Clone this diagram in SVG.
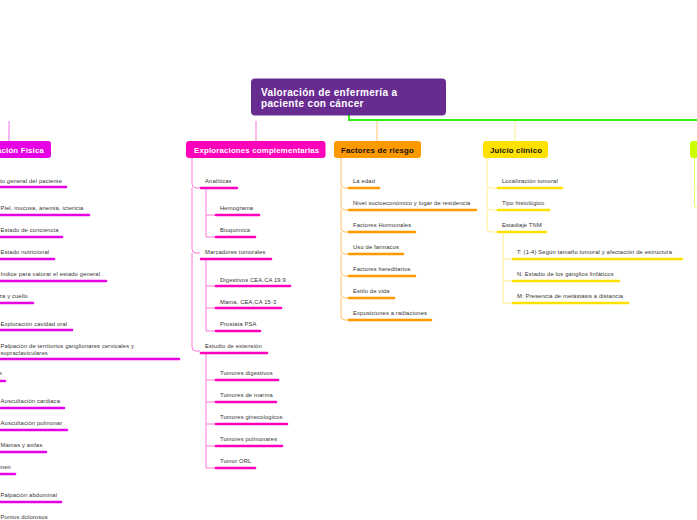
<svg xmlns="http://www.w3.org/2000/svg" width="697" height="520" viewBox="0 0 697 520">
<defs>
<linearGradient id="gl" x1="0" y1="0" x2="1" y2="0">
<stop offset="0" stop-color="#8a4cff"/><stop offset="0.05" stop-color="#c000ff"/><stop offset="1" stop-color="#cc00ee"/>
</linearGradient>
</defs>
<style>
text{font-family:"Liberation Sans",Arial,sans-serif;}
.it{font-size:5.8px;fill:#333;letter-spacing:0.15px;}
.nt{font-size:7.8px;font-weight:bold;letter-spacing:0.2px;}
.ul{fill:none;stroke-width:2.6;stroke-linecap:round;}
.br{fill:none;stroke-width:1;}
.m1{stroke:#e600e6;} .m1b{stroke:#f070f0;}
.m2{stroke:#ff00bb;} .m2b{stroke:#ff77dd;}
.o{stroke:#ff9900;} .ob{stroke:#ffc266;}
.y{stroke:#ffe100;} .yb{stroke:#ffee88;}
.g{stroke:#ddff66;}
</style>
<g id="connectors">
<path d="M-2,120 H349" stroke="url(#gl)" stroke-width="2"/>
<path d="M349,115 V120 H697" stroke="#33ee11" stroke-width="2" fill="none"/>
<path d="M9,121 V141" class="br m1b"/>
<path d="M256,121 V141" class="br m2b"/>
<path d="M377,121 V141" class="br ob"/>
<path d="M515,121 V141" class="br yb"/>
<path d="M694.5,158 V184 Q694.5,188 697,188 M694.5,188 V204 Q694.5,208 697,208" class="br g"/>
<path d="M192,158 V184 Q192,188 196,188 H200 M192,188 V249 Q192,253 196,253 H200 M192,253 V347 Q192,351 196,351 H200" class="br m2b"/>
<path d="M206,188 V215 H215 M206,215 V237 H215" class="br m2b"/>
<path d="M206,259 V286 H215 M206,286 V308 H215 M206,308 V331 H215" class="br m2b"/>
<path d="M206,353 V380 H215 M206,380 V402 H215 M206,402 V424 H215 M206,424 V446 H215 M206,446 V468 H215" class="br m2b"/>
<path d="M341,158 V184 Q341,188 345,188 H348 M341,188 V206 Q341,210 345,210 H348 M341,210 V228 Q341,232 345,232 H348 M341,232 V250 Q341,254 345,254 H348 M341,254 V272 Q341,276 345,276 H348 M341,276 V294 Q341,298 345,298 H348 M341,298 V316 Q341,320 345,320 H348" class="br ob"/>
<path d="M487,158 V184 Q487,188 491,188 H497 M487,188 V206 Q487,210 491,210 H497 M487,210 V228 Q487,232 491,232 H497" class="br yb"/>
<path d="M503,232 V259 H512 M503,259 V281 H512 M503,281 V303 H512" class="br yb"/>
</g>
<g id="root">
<rect x="251" y="78.5" width="195" height="37" rx="4" fill="#682c91"/>
<text x="261" y="96" class="nt" fill="#fff" style="font-size:10px;letter-spacing:0.35px">Valoración de enfermería a</text>
<text x="261" y="107" class="nt" fill="#fff" style="font-size:10px;letter-spacing:0.35px">paciente con cáncer</text>
</g>
<g id="n-fisica">
<rect x="-10" y="141" width="61" height="17" rx="3" fill="#e600e6"/>
<text x="44" y="153" class="nt" fill="#fff" text-anchor="end">Exploración Física</text>
</g>
<g id="fisica-items">
<text x="62" y="183" class="it" text-anchor="end">Aspecto general del paciente</text><path d="M-5,187 H66" class="ul m1"/>
<text x="0.5" y="210" class="it">Piel, mucosa, anemia, ictericia</text><path d="M-5,215 H89" class="ul m1"/>
<text x="0.5" y="232" class="it">Estado de conciencia</text><path d="M-5,237 H62" class="ul m1"/>
<text x="0.5" y="254" class="it">Estado nutricional</text><path d="M-5,259 H54" class="ul m1"/>
<text x="0.5" y="276" class="it">Indice para valorar el estado general</text><path d="M-5,281 H106" class="ul m1"/>
<text x="28" y="298" class="it" text-anchor="end">Cabeza y cuello</text><path d="M-5,303 H33" class="ul m1"/>
<text x="0.5" y="326" class="it">Exploración cavidad oral</text><path d="M-5,330 H72" class="ul m1"/>
<text x="0.5" y="348" class="it">Palpación de territorios ganglionares cervicales y</text>
<text x="0.5" y="355" class="it">supraclaviculares</text><path d="M-5,359 H179" class="ul m1"/>
<text x="2" y="375" class="it" text-anchor="end">Tórax</text><path d="M-5,381 H5" class="ul m1"/>
<text x="0.5" y="403" class="it">Auscultación cardiaca</text><path d="M-5,408 H64" class="ul m1"/>
<text x="0.5" y="425" class="it">Auscultación pulmonar</text><path d="M-5,430 H67" class="ul m1"/>
<text x="0.5" y="447" class="it">Mamas y axilas</text><path d="M-5,452 H46" class="ul m1"/>
<text x="11" y="469" class="it" text-anchor="end">Abdomen</text><path d="M-5,474 H15" class="ul m1"/>
<text x="0.5" y="497" class="it">Palpación abdominal</text><path d="M-5,502 H61" class="ul m1"/>
<text x="0.5" y="519" class="it">Puntos dolorosos</text><path d="M-5,524 H56" class="ul m1"/>
</g>
<g id="n-complementarias">
<rect x="186" y="141" width="139.5" height="17" rx="3" fill="#ff00bb"/>
<text x="194" y="153" class="nt" fill="#fff">Exploraciones complementarias</text>
</g>
<g id="complementarias-items">
<text x="205" y="183" class="it">Analíticas</text><path d="M201,188 H237" class="ul m2"/>
<text x="220" y="210" class="it">Hemograma</text><path d="M216,215 H259" class="ul m2"/>
<text x="220" y="232" class="it">Bioquímica</text><path d="M216,237 H255" class="ul m2"/>
<text x="205" y="254" class="it">Marcadores tumorales</text><path d="M201,259 H271" class="ul m2"/>
<text x="220" y="282" class="it">Digestivos CEA,CA 19.9</text><path d="M216,286 H290" class="ul m2"/>
<text x="220" y="304" class="it">Mama, CEA,CA 15-3</text><path d="M216,308 H281" class="ul m2"/>
<text x="220" y="326" class="it">Prostata PSA</text><path d="M216,331 H260" class="ul m2"/>
<text x="205" y="348" class="it">Estudio de extensión</text><path d="M201,353 H267" class="ul m2"/>
<text x="220" y="375" class="it">Tumores digestivos</text><path d="M216,380 H278" class="ul m2"/>
<text x="220" y="397" class="it">Tumores de marma</text><path d="M216,402 H276" class="ul m2"/>
<text x="220" y="419" class="it">Tumores ginecologicos</text><path d="M216,424 H287" class="ul m2"/>
<text x="220" y="441" class="it">Tumores pulmonares</text><path d="M216,446 H282" class="ul m2"/>
<text x="220" y="463" class="it">Tumor ORL</text><path d="M216,468 H255" class="ul m2"/>
</g>
<g id="n-riesgo">
<rect x="334" y="141" width="87" height="17" rx="3" fill="#ff9900"/>
<text x="341" y="153" class="nt" fill="#111">Factores de riesgo</text>
</g>
<g id="riesgo-items">
<text x="353" y="183" class="it">La edad</text><path d="M349,188 H379" class="ul o"/>
<text x="353" y="205" class="it">Nivel socioeconómico y lugar de residencia</text><path d="M349,210 H476" class="ul o"/>
<text x="353" y="227" class="it">Factores Hormonales</text><path d="M349,232 H415" class="ul o"/>
<text x="353" y="249" class="it">Uso de farmacos</text><path d="M349,254 H403" class="ul o"/>
<text x="353" y="271" class="it">Factores hereditarios</text><path d="M349,276 H415" class="ul o"/>
<text x="353" y="293" class="it">Estilo de vida</text><path d="M349,298 H394" class="ul o"/>
<text x="353" y="315" class="it">Exposiciones a radiaciones</text><path d="M349,320 H431" class="ul o"/>
</g>
<g id="n-juicio">
<rect x="483" y="141" width="65" height="17" rx="3" fill="#ffe100"/>
<text x="490" y="153" class="nt" fill="#111">Juicio clínico</text>
</g>
<g id="juicio-items">
<text x="502" y="183" class="it">Localización tumoral</text><path d="M498,188 H562" class="ul y"/>
<text x="502" y="205" class="it">Tipo histológico</text><path d="M498,210 H549" class="ul y"/>
<text x="502" y="227" class="it">Estadiaje TNM</text><path d="M498,232 H546" class="ul y"/>
<text x="517" y="254" class="it">T: (1-4) Según tamaño tumoral y afectación de estructura</text><path d="M513,259 H682" class="ul y"/>
<text x="517" y="276" class="it">N: Estadio de los ganglios linfáticos</text><path d="M513,281 H619" class="ul y"/>
<text x="517" y="298" class="it">M: Presencia de metástasis a distancia</text><path d="M513,303 H628" class="ul y"/>
</g>
<g id="n-right">
<rect x="690" y="141" width="20" height="17" rx="3" fill="#ccff00"/>
</g>
</svg>
